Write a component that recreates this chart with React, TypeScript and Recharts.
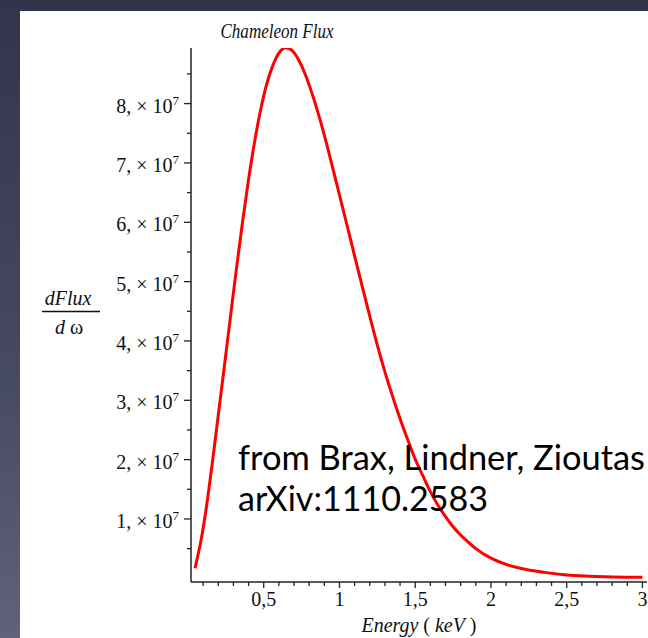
import { LineChart, Line, XAxis, YAxis } from 'recharts'

// energy in keV, flux in units of 1e7
const energy = [
    0.047, 0.065, 0.085, 0.105, 0.13, 0.16, 0.2, 0.24, 0.28, 0.32, 0.36, 0.4,
    0.44, 0.48, 0.52, 0.56, 0.6, 0.646, 0.69, 0.73, 0.77, 0.81, 0.85, 0.9,
    0.95, 1.0, 1.05, 1.1, 1.15, 1.2, 1.25, 1.3, 1.35, 1.4, 1.45, 1.5,
    1.55, 1.6, 1.65, 1.7, 1.75, 1.8, 1.85, 1.9, 2.0, 2.1, 2.2, 2.35,
    2.5, 2.65, 2.8, 3.0,
]
const fluxE7 = [
    0.17, 0.38, 0.62, 0.92, 1.35, 1.93, 2.75, 3.57, 4.4, 5.22, 6.0, 6.72,
    7.36, 7.9, 8.33, 8.64, 8.85, 8.94, 8.89, 8.74, 8.52, 8.24, 7.92, 7.47,
    6.97, 6.46, 5.95, 5.43, 4.92, 4.42, 3.93, 3.48, 3.07, 2.69, 2.34, 2.01,
    1.73, 1.46, 1.23, 1.04, 0.87, 0.73, 0.61, 0.5, 0.34, 0.235, 0.165, 0.1,
    0.055, 0.036, 0.024, 0.017,
]

const xMajor = [0.5, 1, 1.5, 2, 2.5, 3]
const xTicks = Array.from({ length: 30 }, (_, i) => (i + 1) / 10)
const yMajor = [1, 2, 3, 4, 5, 6, 7, 8]
const yTicks = Array.from({ length: 17 }, (_, i) => ((i + 1) / 2) * 1e7)

const data = energy.map((e, i) => ({ e, flux: fluxE7[i] * 1e7 }))

const SERIF = '"Liberation Serif", "Times New Roman", serif'
const AXIS = '#222'

const XTick = (props: any) => {
    const { x, y, payload } = props
    const v = payload.value
    const major = xMajor.some((m) => Math.abs(m - v) < 1e-6)
    return (
        <g>
            <line x1={x} x2={x} y1={y} y2={y + (major ? 6 : 4)} stroke={AXIS} strokeWidth={1.3} />
            {major && (
                <text x={x} y={y + 24} textAnchor="middle" fontFamily={SERIF} fontSize={20} fill="#111">
                    {String(v).replace('.', ',')}
                </text>
            )}
        </g>
    )
}

const YTick = (props: any) => {
    const { x, y, payload } = props
    const v = payload.value / 1e7
    const major = yMajor.some((m) => Math.abs(m - v) < 1e-6)
    return (
        <g>
            <line x1={x - (major ? 7 : 4)} x2={x} y1={y} y2={y} stroke={AXIS} strokeWidth={1.3} />
            {major && (
                <text x={x - 12} y={y + 9} textAnchor="end" fontFamily={SERIF} fontSize={20} fill="#111">
                    {`${Math.round(v)}, × 10`}
                    <tspan dy={-8} fontSize={13}>7</tspan>
                </text>
            )}
        </g>
    )
}

export default function App() {
    return (
        <div
            style={{
                position: 'absolute',
                left: 0,
                top: 0,
                width: 648,
                height: 638,
                overflow: 'hidden',
                background: 'linear-gradient(to bottom, #33344b 0%, #474a63 60%, #5f6279 100%)',
            }}
        >
            <div style={{ position: 'absolute', left: 20, top: 11, width: 628, height: 627, background: '#fff' }} />
            <div style={{ position: 'absolute', left: 0, top: 0 }}>
                <LineChart width={648} height={638} data={data} margin={{ top: 48, right: 1, bottom: 0, left: 0 }}>
                    <XAxis
                        dataKey="e"
                        type="number"
                        domain={[0.02, 3.03]}
                        allowDataOverflow
                        ticks={xTicks}
                        interval={0}
                        height={56}
                        tickSize={0}
                        tickMargin={0}
                        tickLine={false}
                        tick={<XTick />}
                        axisLine={{ stroke: AXIS, strokeWidth: 1.5 }}
                    />
                    <YAxis
                        type="number"
                        domain={[-620000, 89370000]}
                        allowDataOverflow
                        ticks={yTicks}
                        interval={0}
                        width={191}
                        tickSize={0}
                        tickMargin={0}
                        tickLine={false}
                        tick={<YTick />}
                        axisLine={{ stroke: AXIS, strokeWidth: 1.5 }}
                    />
                    <Line
                        dataKey="flux"
                        type="monotone"
                        stroke="#ff0000"
                        strokeWidth={3}
                        dot={false}
                        isAnimationActive={false}
                    />
                </LineChart>
            </div>
            <svg width={648} height={638} style={{ position: 'absolute', left: 0, top: 0, pointerEvents: 'none' }}>
                <text x={277} y={38} textAnchor="middle" fontFamily={SERIF} fontStyle="italic" fontSize={21} fill="#111" textLength={113} lengthAdjust="spacingAndGlyphs">
                    Chameleon  Flux
                </text>
                <text x={68} y={305} textAnchor="middle" fontFamily={SERIF} fontStyle="italic" fontSize={20} fill="#111">
                    dFlux
                </text>
                <line x1={42} x2={100} y1={311.5} y2={311.5} stroke="#111" strokeWidth={1.3} />
                <text x={69} y={334} textAnchor="middle" fontFamily={SERIF} fontSize={20} fill="#111">
                    <tspan fontStyle="italic">d</tspan> ω
                </text>
                <text x={419} y={632} textAnchor="middle" fontFamily={SERIF} fontSize={20} fill="#111" textLength={115} lengthAdjust="spacingAndGlyphs">
                    <tspan fontStyle="italic">Energy</tspan> ( <tspan fontStyle="italic">keV</tspan> )
                </text>
                <text x={238} y={470} fontFamily="Lato, 'Open Sans', sans-serif" fontSize={34} fill="#000" textLength={407} lengthAdjust="spacingAndGlyphs">
                    from Brax, Lindner, Zioutas
                </text>
                <text x={238} y={511} fontFamily="Lato, 'Open Sans', sans-serif" fontSize={34} fill="#000" textLength={250} lengthAdjust="spacingAndGlyphs">
                    arXiv:1110.2583
                </text>
            </svg>
        </div>
    )
}
